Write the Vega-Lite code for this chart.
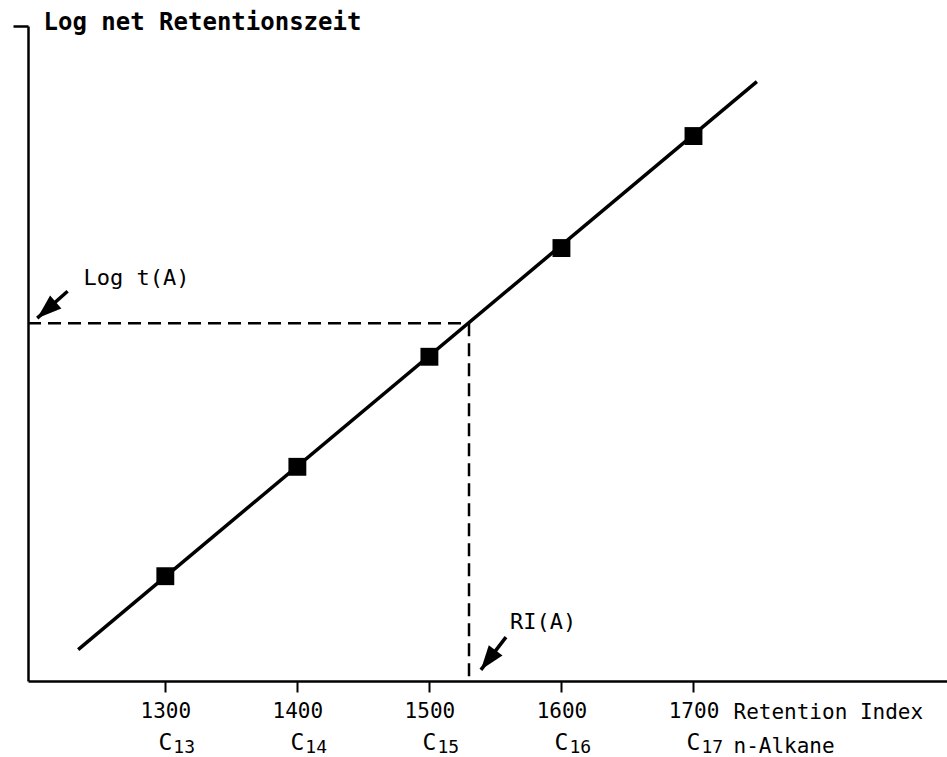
{
  "$schema": "https://vega.github.io/schema/vega-lite/v6.json",
  "width": 919,
  "height": 655,
  "autosize": "none",
  "padding": {"left": 28, "top": 26, "right": 0, "bottom": 76},
  "background": "white",
  "config": {
    "view": {"stroke": null},
    "font": "DejaVu Sans Mono"
  },
  "datasets": {
    "fit": [
      {"ri": 1234, "logt": 0.48},
      {"ri": 1748, "logt": 9.15}
    ],
    "alkanes": [
      {"ri": 1300, "logt": 1.60, "carbon": "13"},
      {"ri": 1400, "logt": 3.27, "carbon": "14"},
      {"ri": 1500, "logt": 4.95, "carbon": "15"},
      {"ri": 1600, "logt": 6.61, "carbon": "16"},
      {"ri": 1700, "logt": 8.32, "carbon": "17"}
    ],
    "unknown": [
      {"ri": 1530, "logt": 5.46}
    ],
    "arrows": [
      {"label": "Log t(A)", "ri": 1203, "logt": 5.54, "ri2": 1226, "logt2": 5.95},
      {"label": "RI(A)", "ri": 1539, "logt": 0.17, "ri2": 1558, "logt2": 0.67}
    ],
    "notes": [
      {"label": "Log t(A)", "ri": 1238, "logt": 6.15},
      {"label": "RI(A)", "ri": 1561, "logt": 0.90}
    ]
  },
  "encoding": {
    "x": {
      "field": "ri",
      "type": "quantitative",
      "scale": {"domain": [1196, 1892], "nice": false, "zero": false},
      "axis": {
        "values": [1300, 1400, 1500, 1600, 1700],
        "format": "d",
        "grid": false,
        "domainColor": "black",
        "domainWidth": 2.5,
        "tickColor": "black",
        "tickWidth": 2,
        "tickSize": 11,
        "labelFont": "DejaVu Sans Mono",
        "labelFontSize": 21,
        "labelColor": "black",
        "labelPadding": 8,
        "title": ["Retention Index", "n-Alkane"],
        "titleFont": "DejaVu Sans Mono",
        "titleFontSize": 21,
        "titleFontWeight": "normal",
        "titleColor": "black",
        "titleX": 705,
        "titleY": 37,
        "titleAlign": "left",
        "titleBaseline": "alphabetic",
        "titleLineHeight": 34
      }
    },
    "y": {
      "field": "logt",
      "type": "quantitative",
      "scale": {"domain": [0, 10], "nice": false, "zero": false},
      "axis": {
        "values": [10],
        "grid": false,
        "labels": false,
        "domainColor": "black",
        "domainWidth": 2.5,
        "tickColor": "black",
        "tickWidth": 2.5,
        "tickSize": 15,
        "title": "Log net Retentionszeit",
        "titleFont": "DejaVu Sans Mono",
        "titleFontSize": 24,
        "titleFontWeight": "bold",
        "titleColor": "black",
        "titleAngle": 0,
        "titleX": 15,
        "titleY": 3,
        "titleAlign": "left",
        "titleBaseline": "alphabetic"
      }
    }
  },
  "layer": [
    {
      "data": {"name": "unknown"},
      "mark": {"type": "rule", "color": "black", "strokeWidth": 2.5, "strokeDash": [13, 7]},
      "encoding": {
        "x": {"datum": 1196},
        "x2": {"field": "ri"}
      }
    },
    {
      "data": {"name": "unknown"},
      "mark": {"type": "rule", "color": "black", "strokeWidth": 2.5, "strokeDash": [13, 7]},
      "encoding": {
        "y2": {"datum": 0}
      }
    },
    {
      "data": {"name": "fit"},
      "mark": {"type": "line", "color": "black", "strokeWidth": 3.5},
      "encoding": {}
    },
    {
      "data": {"name": "alkanes"},
      "mark": {"type": "point", "shape": "square", "filled": true, "opacity": 1, "color": "black", "size": 320},
      "encoding": {}
    },
    {
      "data": {"name": "arrows"},
      "mark": {"type": "rule", "color": "black", "strokeWidth": 3.5},
      "encoding": {
        "x2": {"field": "ri2"},
        "y2": {"field": "logt2"}
      }
    },
    {
      "data": {"name": "arrows"},
      "mark": {"type": "point", "shape": "M0,0L0.7,2L-0.7,2Z", "filled": true, "opacity": 1, "color": "black", "size": 600},
      "encoding": {
        "angle": {"condition": {"test": "datum.label === 'RI(A)'", "value": 217}, "value": 229}
      }
    },
    {
      "data": {"name": "notes"},
      "mark": {"type": "text", "align": "left", "baseline": "middle", "fontSize": 22, "color": "black", "font": "DejaVu Sans Mono"},
      "encoding": {
        "text": {"field": "label"}
      }
    },
    {
      "data": {"name": "alkanes"},
      "mark": {"type": "text", "align": "center", "baseline": "middle", "fontSize": 23, "color": "black", "font": "DejaVu Sans Mono"},
      "encoding": {
        "y": {"datum": -0.95},
        "text": {"value": "C"}
      }
    },
    {
      "data": {"name": "alkanes"},
      "mark": {"type": "text", "align": "left", "baseline": "middle", "dx": 8, "dy": 5, "fontSize": 18, "color": "black", "font": "DejaVu Sans Mono"},
      "encoding": {
        "y": {"datum": -0.95},
        "text": {"field": "carbon"}
      }
    }
  ]
}
